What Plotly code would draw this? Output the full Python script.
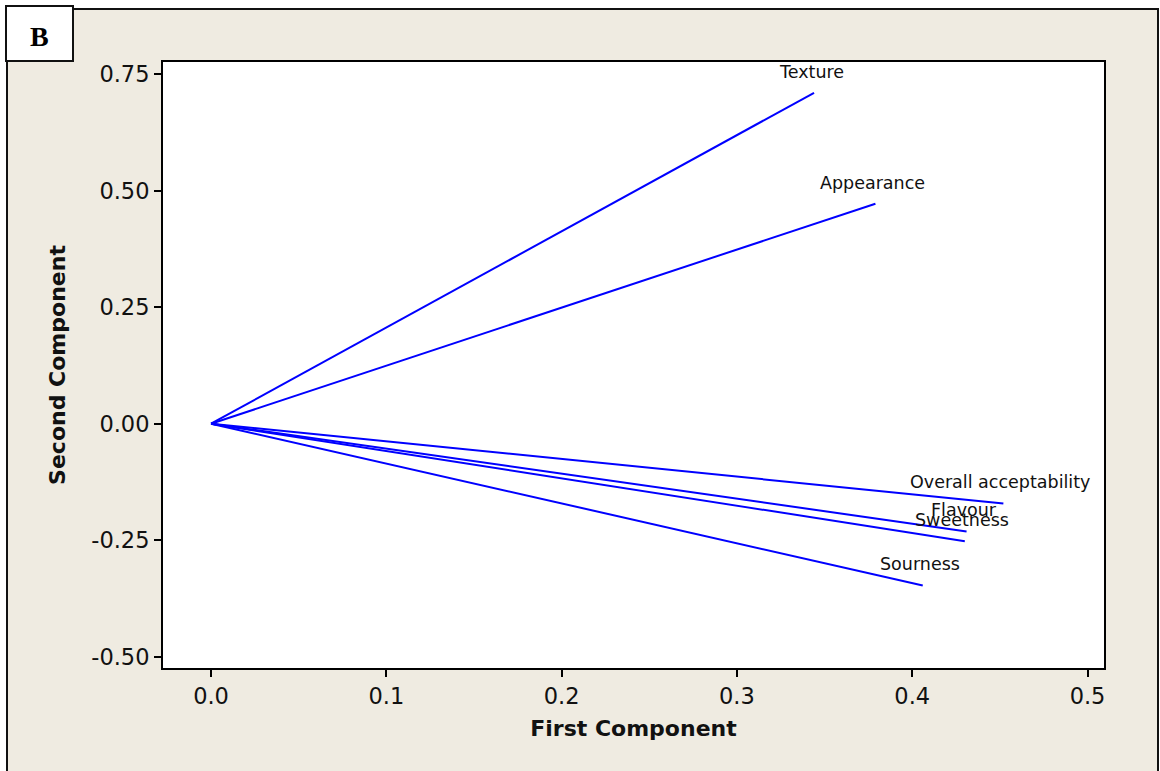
import plotly.graph_objects as go

# Loading plot: attribute loadings on the first two principal components
attributes = ["Texture", "Appearance", "Overall acceptability", "Flavour", "Sweetness", "Sourness"]
first_component = [0.344, 0.379, 0.452, 0.431, 0.430, 0.406]
second_component = [0.710, 0.472, -0.171, -0.231, -0.252, -0.347]

x_ticks = [0.0, 0.1, 0.2, 0.3, 0.4, 0.5]
y_ticks = [-0.50, -0.25, 0.00, 0.25, 0.50, 0.75]

W, H = 1160, 771
L, R, T, B = 163, 56, 62, 103
pw, ph = W - L - R, H - T - B

def px_x(p):
    return (p - L) / pw

def px_y(p):
    return (H - B - p) / ph

FONT = "DejaVu Sans"
BLUE = "#0000FF"

fig = go.Figure()

for name, x, y in zip(attributes, first_component, second_component):
    fig.add_trace(go.Scatter(
        x=[0, x], y=[0, y], mode="lines",
        line=dict(color=BLUE, width=2),
        hoverinfo="skip", showlegend=False, name=name,
    ))
    fig.add_annotation(
        x=x, y=y, text=name, showarrow=False,
        xanchor="center", yanchor="middle", xshift=-3, yshift=21,
        font=dict(family=FONT, size=17.5, color="#111111"),
    )

# Outer panel frame
fig.add_shape(
    type="rect", xref="paper", yref="paper", layer="below",
    x0=px_x(7), x1=px_x(1158), y0=px_y(9), y1=px_y(790),
    fillcolor="#EFEBE1", line=dict(color="#111111", width=2),
)
# White plotting area on top of the panel fill
fig.add_shape(
    type="rect", xref="paper", yref="paper", layer="below",
    x0=0, x1=1, y0=0, y1=1,
    fillcolor="white", line=dict(width=0),
)
# Panel letter box
fig.add_shape(
    type="rect", xref="paper", yref="paper", layer="above",
    x0=px_x(6), x1=px_x(73), y0=px_y(6), y1=px_y(61),
    fillcolor="white", line=dict(color="#111111", width=2),
)
fig.add_annotation(
    xref="paper", yref="paper", x=px_x(39.5), y=px_y(36), text="<b>B</b>",
    showarrow=False, xanchor="center", yanchor="middle",
    font=dict(family="Liberation Serif", size=28, color="black"),
)

axis_common = dict(
    showgrid=False, zeroline=False, showline=True, mirror=True,
    linecolor="black", linewidth=2, ticks="outside", ticklen=7,
    tickwidth=1.5, tickcolor="black",
    tickfont=dict(family=FONT, size=22.5, color="#111111"),
)

fig.update_xaxes(
    range=[-0.0274, 0.5094], tickvals=x_ticks,
    ticktext=[f"{v:.1f}" for v in x_ticks],
    title=dict(text="<b>First Component</b>", standoff=13,
               font=dict(family=FONT, size=22, color="#111111")),
    **axis_common,
)
fig.update_yaxes(
    range=[-0.524, 0.776], tickvals=y_ticks,
    ticktext=[f"{v:.2f}" for v in y_ticks],
    title=dict(text="<b>Second Component</b>", standoff=20,
               font=dict(family=FONT, size=22, color="#111111")),
    **axis_common,
)

fig.update_layout(
    width=W, height=H,
    margin=dict(l=L, r=R, t=T, b=B),
    paper_bgcolor="white", plot_bgcolor="white",
)

fig.write_html("out.html")
